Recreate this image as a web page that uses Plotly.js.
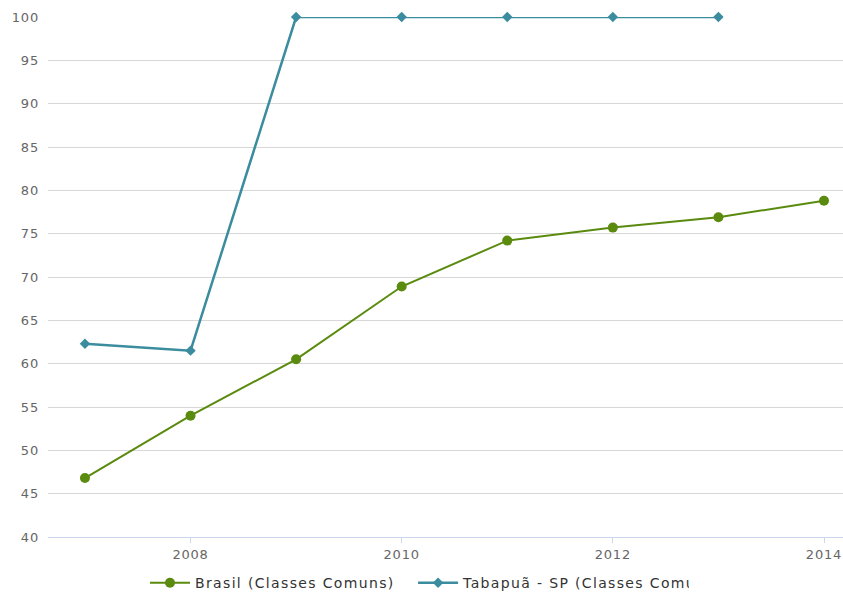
<!DOCTYPE html>
<html><head><meta charset="utf-8">
<script src="https://cdn.plot.ly/plotly-3.0.1.min.js"></script>
<style>html,body{margin:0;padding:0;background:#fff;}#chart{width:843px;height:592px;}
.legendtext, .legend2 text, g[class^="legend"] text.legendtext{letter-spacing:1.35px !important;}
.xtick text,.ytick text{letter-spacing:0.8px;}</style>
</head><body><div id="chart"></div>
<script>
const years = [2007, 2008, 2009, 2010, 2011, 2012, 2013, 2014];
const brasil = [46.8, 54.0, 60.5, 68.9, 74.2, 75.7, 76.9, 78.8];
const tabapuaYears = [2007, 2008, 2009, 2010, 2011, 2012, 2013];
const tabapua = [62.3, 61.5, 100, 100, 100, 100, 100];
const yTicks = [40, 45, 50, 55, 60, 65, 70, 75, 80, 85, 90, 95, 100];
const xTicks = [2008, 2010, 2012, 2014];

const traces = [
  {x: years, y: brasil, name: 'Brasil (Classes Comuns)', type: 'scatter', mode: 'lines+markers', cliponaxis: false,
   legend: 'legend',
   line: {color: '#5a8a0e', width: 2}, marker: {color: '#5a8a0e', size: 10, symbol: 'circle'}},
  {x: tabapuaYears, y: tabapua, name: 'Tabapuã - SP (Classes Comuns)', type: 'scatter', mode: 'lines+markers', cliponaxis: false,
   legend: 'legend2',
   line: {color: '#3a8c9e', width: 2.5}, marker: {color: '#3a8c9e', size: 8, symbol: 'diamond'}}
];
const legendBase = {orientation: 'h', xanchor: 'left', xref: 'container', y: 0.015, yanchor: 'middle', yref: 'container',
                    font: {size: 14, color: '#333'}, itemwidth: 40, bgcolor: 'rgba(0,0,0,0)'};
const layout = {
  width: 843, height: 592,
  margin: {l: 48, r: 0, t: 17, b: 55},
  paper_bgcolor: '#fff', plot_bgcolor: '#fff',
  font: {family: 'DejaVu Sans, sans-serif', size: 13, color: '#666'},
  showlegend: true,
  legend: Object.assign({}, legendBase, {x: 0.172}),
  legend2: Object.assign({}, legendBase, {x: 0.49}),
  xaxis: {range: [2006.65, 2014.18], tickvals: xTicks, ticktext: xTicks.map(String),
          showgrid: false, zeroline: false, showline: true, linecolor: '#ccd6eb', linewidth: 1,
          ticks: 'outside', ticklen: 5, tickcolor: '#ccd6eb', tickfont: {size: 13, color: '#666'}},
  yaxis: {range: [40, 100], tickvals: yTicks, showgrid: true, gridcolor: '#d8d8d8', gridwidth: 1,
          zeroline: false, showline: false, ticks: '', tickfont: {size: 13, color: '#666'}, ticklabelstandoff: 8}
};
Plotly.newPlot('chart', traces, layout, {displayModeBar: false});
</script></body></html>
